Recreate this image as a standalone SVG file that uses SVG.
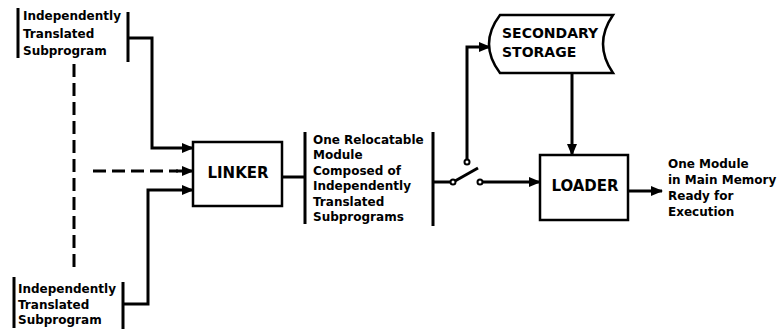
<svg xmlns="http://www.w3.org/2000/svg" width="781" height="329" viewBox="0 0 781 329">
<style>
.t{font-family:"DejaVu Sans","Liberation Sans",sans-serif;font-weight:bold;font-size:12px;fill:#000}
.b{font-family:"DejaVu Sans","Liberation Sans",sans-serif;font-weight:bold;font-size:15px;fill:#000}
.s{font-family:"DejaVu Sans","Liberation Sans",sans-serif;font-weight:bold;font-size:14px;fill:#000}
.ln{fill:none;stroke:#000;stroke-width:3}
.br{fill:none;stroke:#000;stroke-width:3}
.box{fill:#fff;stroke:#000;stroke-width:2.5}
.dash{stroke-dasharray:13 6}
.arr{marker-end:url(#ah)}
</style>
<defs>
<marker id="ah" markerUnits="userSpaceOnUse" markerWidth="12" markerHeight="10" refX="11" refY="5" orient="auto">
<path d="M0,0 L12,5 L0,10 Z" fill="#000"/>
</marker>
</defs>
<rect width="781" height="329" fill="#fff"/>
<g id="connectors">
<path class="ln arr" d="M128 38 H152 V148 H193"/>
<path class="ln arr" d="M123 304 H148 V190 H193"/>
<path class="ln dash" d="M74 64 V270"/>
<path class="ln dash" d="M93 171 H178"/>
<path class="ln arr" d="M176 171 H193"/>
<path class="ln" d="M282 177 H305"/>
<path class="ln" d="M433 182 H451"/>
<path class="ln" d="M455 181 L478 168"/>
<circle cx="453" cy="182" r="2.5" fill="#fff" stroke="#000" stroke-width="2"/>
<circle cx="467" cy="162" r="2.5" fill="#fff" stroke="#000" stroke-width="2"/>
<circle cx="480" cy="182" r="2.5" fill="#fff" stroke="#000" stroke-width="2"/>
<path class="ln arr" d="M467 159 V47 H490"/>
<path class="ln arr" d="M483 182 H540"/>
<path class="ln arr" d="M572 72 V155"/>
<path class="ln arr" d="M628 191 H662"/>
</g>
<g id="subprogram-top">
<path class="br" d="M18 8 V58 M128 12 V62"/>
<text class="t" x="23" y="20">Independently</text>
<text class="t" x="23" y="37.5">Translated</text>
<text class="t" x="23" y="55">Subprogram</text>
</g>
<g id="subprogram-bottom">
<path class="br" d="M14 277 V328 M123 282 V329"/>
<text class="t" x="18" y="293">Independently</text>
<text class="t" x="18" y="308.5">Translated</text>
<text class="t" x="18" y="324">Subprogram</text>
</g>
<g id="linker">
<rect class="box" x="193" y="142" width="89" height="64"/>
<text class="b" x="238" y="177.5" text-anchor="middle">LINKER</text>
</g>
<g id="relocatable-module">
<path class="br" d="M305 132 V224 M433 132 V226"/>
<text class="t" x="313" y="144">One Relocatable</text>
<text class="t" x="313" y="159.4">Module</text>
<text class="t" x="313" y="174.8">Composed of</text>
<text class="t" x="313" y="190.2">Independently</text>
<text class="t" x="313" y="205.6">Translated</text>
<text class="t" x="313" y="221">Subprograms</text>
</g>
<g id="secondary-storage">
<path class="box" d="M500 15 H613 Q593 44 613 73 H500 Q478 44 500 15 Z"/>
<text class="s" x="502" y="38">SECONDARY</text>
<text class="s" x="502" y="57">STORAGE</text>
</g>
<g id="loader">
<rect class="box" x="540" y="155" width="88" height="65"/>
<text class="b" x="585" y="190.5" text-anchor="middle">LOADER</text>
</g>
<g id="output">
<text class="t" x="668" y="168">One Module</text>
<text class="t" x="668" y="184">in Main Memory</text>
<text class="t" x="668" y="200">Ready for</text>
<text class="t" x="668" y="216">Execution</text>
</g>
</svg>
